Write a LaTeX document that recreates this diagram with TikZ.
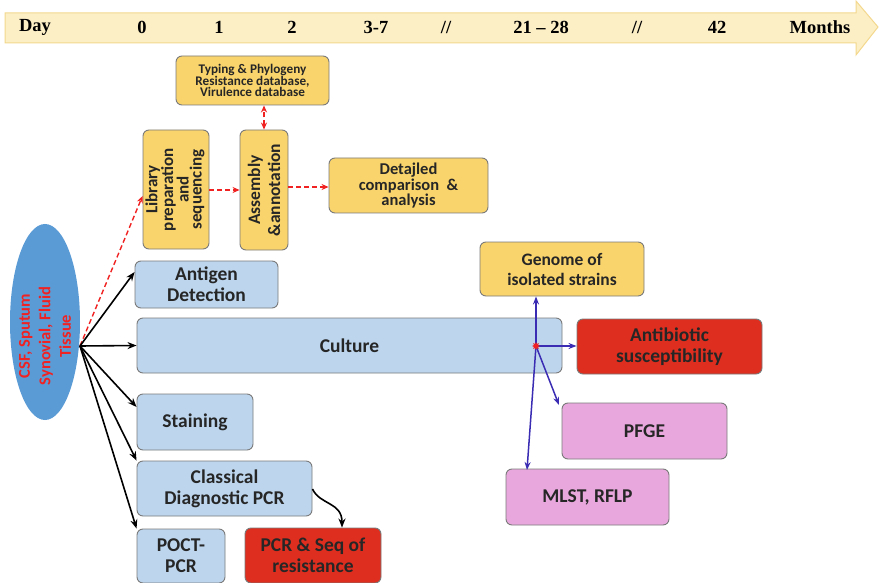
\documentclass[tikz,border=0pt]{standalone}
\usepackage{fontspec}
\setmainfont{Carlito}
\newfontfamily\tlfont{Liberation Serif}
\usetikzlibrary{arrows.meta,shapes.geometric}
\definecolor{tlfill}{HTML}{FCEFC6}
\definecolor{tledge}{HTML}{F3D88E}
\definecolor{ylw}{HTML}{F9D46C}
\definecolor{blu}{HTML}{BDD6EE}
\definecolor{redb}{HTML}{DE2E1F}
\definecolor{pnk}{HTML}{E8A8DD}
\definecolor{ell}{HTML}{5B9BD5}
\definecolor{edgegray}{HTML}{7A7A7A}
\definecolor{dashred}{HTML}{F02222}
\definecolor{indigo}{HTML}{3B2DB3}
\definecolor{txt}{HTML}{262626}
\tikzset{
  box/.style={draw=edgegray, line width=0.9pt, rounded corners=6pt, inner sep=0pt,
    align=center, font=\bfseries\fontsize{19.5}{21}\selectfont, text=txt},
  ybox/.style={box, fill=ylw},
  bbox/.style={box, fill=blu},
  rbox/.style={box, fill=redb},
  pbox/.style={box, fill=pnk},
  tick/.style={font=\tlfont\bfseries\fontsize{18.5}{20}\selectfont, text=black},
  blk/.style={-{Stealth[length=9pt,width=7pt]}, line width=1.6pt, black},
  rdash/.style={-{Stealth[length=7pt,width=6pt]}, dashed, dash pattern=on 5pt off 3pt, line width=1.4pt, dashred},
  bl/.style={-{Stealth[length=8pt,width=6pt]}, line width=1.5pt, indigo},
}
\begin{document}
\begin{tikzpicture}[x=1pt,y=-1pt]
\useasboundingbox (0,0) rectangle (879,583);

% timeline band
\draw[fill=tlfill, draw=tledge, line width=1pt]
  (5,13) -- (856,13) -- (856,1) -- (878,27) -- (856,55) -- (856,43) -- (5,43) -- cycle;
\node[tick] (tday) at (35,27) {Day};
\node[tick] (t0) at (142,27) {0};
\node[tick] (t1) at (219,27) {1};
\node[tick] (t2) at (292,27) {2};
\node[tick] (t37) at (376,27) {3-7};
\node[tick] (tbr1) at (446,27) {//};
\node[tick] (t2128) at (541,27) {21 – 28};
\node[tick] (tbr2) at (637,27) {//};
\node[tick] (t42) at (717,27) {42};
\node[tick] (tmon) at (820,27) {Months};

% sample
\node[ellipse, fill=ell, minimum width=70, minimum height=196, inner sep=0pt] (sample) at (45,322) {};
\node[rotate=90, text=dashred, font=\bfseries\fontsize{16.5}{20.5}\selectfont, align=center] (sampletxt) at (45,336)
  {CSF, Sputum\\Synovial, Fluid\\Tissue};
\coordinate (src) at (80,346);

% sequencing branch
\node[ybox, minimum width=153, minimum height=49, font=\bfseries\fontsize{13.2}{11.7}\selectfont] (typing) at (252.5,80.5)
  {Typing \& Phylogeny\\Resistance database,\\Virulence database};
\node[ybox, minimum width=66, minimum height=119] (lib) at (176,189.5) {};
\node[rotate=90, font=\bfseries\fontsize{17}{11.5}\selectfont, align=center, text=txt] (libtxt) at (175,189.5)
  {Library\\preparation\\and\\sequencing};
\node[ybox, minimum width=48, minimum height=120] (asm) at (264,190) {};
\node[rotate=90, font=\bfseries\fontsize{17.5}{20}\selectfont, align=center, text=txt] (asmtxt) at (264,190)
  {Assembly\\\&annotation};
\node[ybox, minimum width=159, minimum height=55, font=\bfseries\fontsize{16.5}{11.5}\selectfont] (detail) at (408.5,185.5)
  {Detajled\\comparison\ \ \&\\analysis};

% conventional methods
\node[bbox, minimum width=143, minimum height=47] (antigen) at (206.5,284.5) {Antigen\\Detection};
\node[bbox, minimum width=425, minimum height=55] (culture) at (349.5,345.5) {Culture};
\node[bbox, minimum width=116, minimum height=56] (stain) at (195,422) {Staining};
\node[bbox, minimum width=175, minimum height=55] (pcr) at (224.5,488.5) {Classical\\Diagnostic PCR};
\node[bbox, minimum width=88, minimum height=54] (poct) at (181,556) {POCT-\\PCR};
\node[rbox, minimum width=136, minimum height=55] (pcrseq) at (313,555.5) {PCR \& Seq of\\resistance};

% downstream of culture
\node[ybox, minimum width=164, minimum height=54, font=\bfseries\fontsize{17.5}{20}\selectfont] (genome) at (562,269) {Genome of\\isolated strains};
\node[rbox, minimum width=185, minimum height=55] (abx) at (669.5,346.5) {Antibiotic\\susceptibility};
\node[pbox, minimum width=165, minimum height=56] (pfge) at (644.5,431) {PFGE};
\node[pbox, minimum width=163, minimum height=56] (mlst) at (587.5,497) {MLST, RFLP};
\coordinate (hub) at (536,346);

% sample connectors
\draw[rdash] (src) -- (lib.west |- 0,196);
\draw[blk] (src) -- (antigen.west |- 0,272);
\draw[blk] (src) -- (culture.west);
\draw[blk] (src) -- (stain.west |- 0,407);
\draw[blk] (src) -- (pcr.north west);
\draw[blk] (src) -- (poct.north west);

% sequencing connectors
\draw[rdash] (lib.east |- 0,190) -- (asm.west |- 0,190);
\draw[rdash] (asm.east |- 0,187) -- (detail.west |- 0,187);
\draw[rdash, {Stealth[length=7pt,width=6pt]}-{Stealth[length=7pt,width=6pt]}] (asm.north) -- (typing.south -| asm.north);

% culture connectors
\draw[bl] (hub) -- (genome.south -| hub);
\draw[bl] (hub) -- (abx.west |- hub);
\draw[bl] (hub) -- (559,405);
\draw[bl] (hub) -- (527,470);
\node[star, star points=8, star point ratio=1.8, fill=dashred, inner sep=0pt, minimum size=8pt] (hubmark) at (hub) {};

% PCR to resistance sequencing
\draw[-{Stealth[length=9pt,width=7pt]}, line width=1.6pt, black]
  (pcr.east |- 0,489) .. controls (320,505) and (342,502) .. (pcrseq.north -| 342,0);
\end{tikzpicture}
\end{document}
